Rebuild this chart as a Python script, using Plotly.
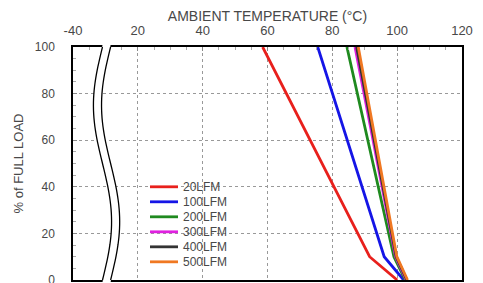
import numpy as np
import plotly.graph_objects as go

# ---- data ----
series_names = ["20LFM", "100LFM", "200LFM", "300LFM", "400LFM", "500LFM"]
load_pct = [100, 10, 0]
temp_20lfm = [58.5, 91.5, 100.0]
temp_100lfm = [75.5, 96.0, 102.0]
temp_200lfm = [84.5, 99.0, 102.5]
temp_300lfm = [87.0, 99.5, 102.8]
temp_400lfm = [87.5, 99.7, 103.0]
temp_500lfm = [88.0, 99.9, 103.2]
x_tickvals = [0, 20, 40, 60, 80, 100, 120]
x_ticktext = ["-40", "20", "40", "60", "80", "100", "120"]
y_tickvals = [0, 20, 40, 60, 80, 100]

colors = ["#e8201c", "#1515e6", "#1f8a1f", "#e020e0", "#333333", "#f07822"]
temps = [temp_20lfm, temp_100lfm, temp_200lfm, temp_300lfm, temp_400lfm, temp_500lfm]

FONT = "Arial, Liberation Sans, sans-serif"
TXT = "#484848"

fig = go.Figure()
for name, t, c in zip(series_names, temps, colors):
    fig.add_trace(go.Scatter(x=t, y=load_pct, mode="lines", name=name,
                             line=dict(color=c, width=2.8), showlegend=False))

# ---- axis break decoration (wavy double line) ----
yy = np.linspace(0, 1, 60)
xc, amp, gap = 9.1, 2.8, 2.5
xl = xc - amp * np.sin(2 * np.pi * (1 - yy))
xr = xl + gap
def pth(xs, ys):
    return "M " + " L ".join(f"{a:.3f},{b:.4f}" for a, b in zip(xs, ys))
poly_x = np.concatenate([xl, xr[::-1]])
poly_y = np.concatenate([yy, yy[::-1]])
poly_y = np.where(poly_y >= 1, 1.01, np.where(poly_y <= 0, -0.01, poly_y))
fig.add_shape(type="path", xref="x", yref="paper", layer="above",
              path=pth(poly_x, poly_y) + " Z", fillcolor="white",
              line=dict(width=0))
for xs in (xl, xr):
    fig.add_shape(type="path", xref="x", yref="paper", layer="above",
                  path=pth(xs, yy), line=dict(color="black", width=1.3))

# ---- legend box (drawn from the series names/colours) ----
leg_x0, leg_x1, leg_tx = 0.198, 0.270, 0.278
leg_top, leg_step = 0.40, 0.0644
fig.add_shape(type="rect", xref="paper", yref="paper", layer="below",
              x0=0.175, x1=0.43, y0=leg_top - leg_step * 5.6, y1=leg_top + leg_step * 0.6,
              fillcolor="white", line=dict(width=0))
for i, (name, c) in enumerate(zip(series_names, colors)):
    yv = leg_top - i * leg_step
    fig.add_shape(type="line", xref="paper", yref="paper", layer="above",
                  x0=leg_x0, x1=leg_x1, y0=yv, y1=yv, line=dict(color=c, width=2.8))
    fig.add_annotation(xref="paper", yref="paper", x=leg_tx, y=yv, text=name,
                       showarrow=False, xanchor="left", yanchor="middle",
                       font=dict(family=FONT, size=12, color=TXT))

fig.update_layout(
    width=483, height=283,
    margin=dict(l=65, r=29, t=39, b=11, autoexpand=False),
    paper_bgcolor="white", plot_bgcolor="white",
    font=dict(family=FONT, color=TXT, size=12),
    showlegend=False,
)
fig.update_xaxes(
    range=[0, 120], side="top", tickvals=x_tickvals, ticktext=x_ticktext,
    title=dict(text="AMBIENT TEMPERATURE (°C)", font=dict(size=14, color=TXT), standoff=0),
    showline=True, linecolor="black", linewidth=1.5, mirror=True,
    ticks="inside", ticklen=4, tickcolor="#888",
    minor=dict(dtick=5, ticks="inside", ticklen=3, tickcolor="#aaa"),
    showgrid=True, gridcolor="#999", griddash="dot", gridwidth=1,
    zeroline=False, tickfont=dict(size=13, color=TXT), automargin=False,
    ticklabelstandoff=5,
)
fig.update_yaxes(
    range=[0, 100], tickvals=y_tickvals,
    title=dict(text="% of FULL LOAD", font=dict(size=13, color=TXT), standoff=8),
    showline=True, linecolor="black", linewidth=1.5, mirror=True,
    ticks="inside", ticklen=4, tickcolor="#888",
    minor=dict(dtick=5, ticks="inside", ticklen=3, tickcolor="#aaa"),
    showgrid=True, gridcolor="#999", griddash="dot", gridwidth=1,
    zeroline=False, tickfont=dict(size=12, color=TXT), ticklabelstandoff=14,
    automargin=False,
)

fig.write_html("out.html")
